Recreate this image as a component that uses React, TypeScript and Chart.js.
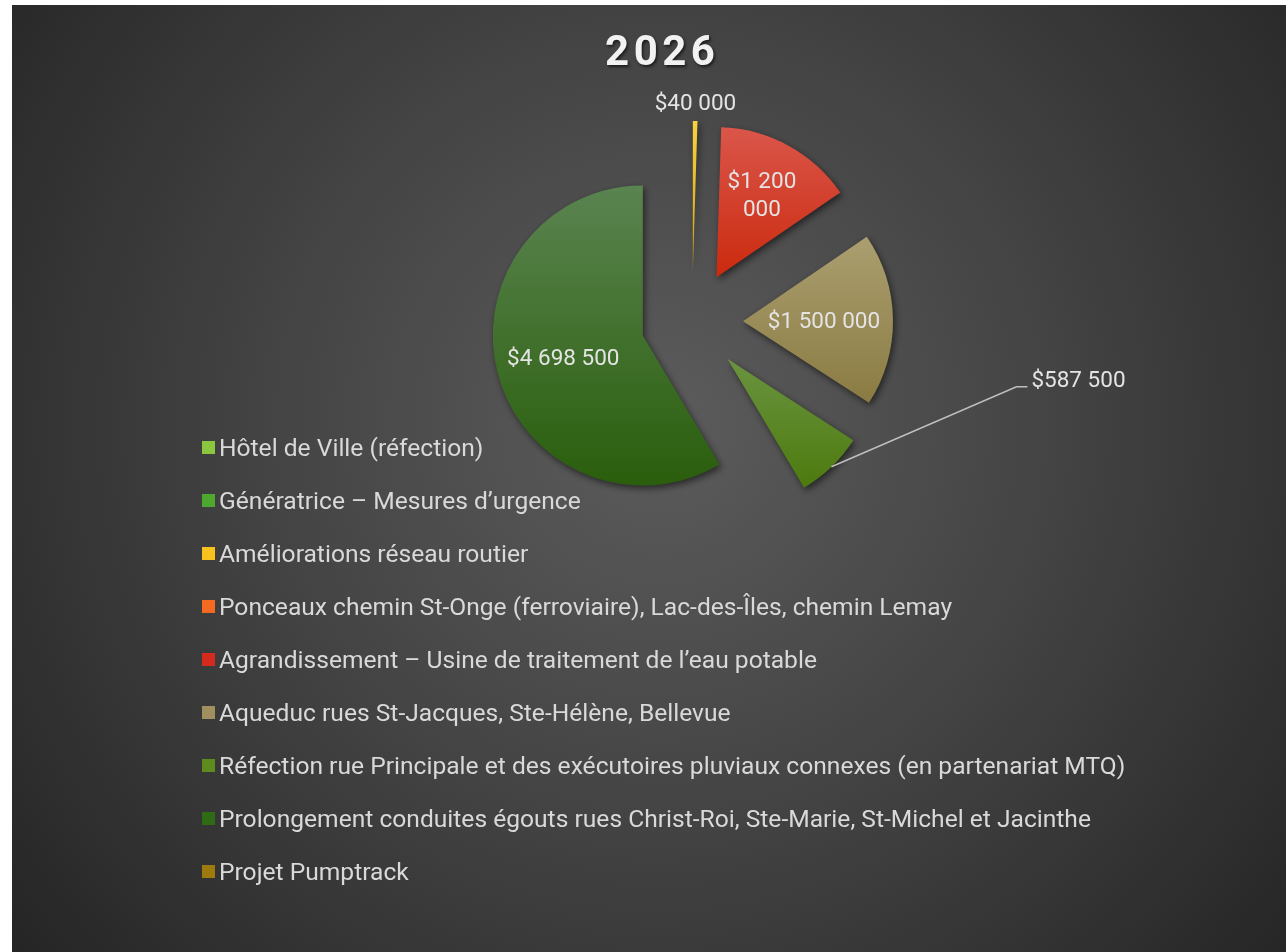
import React, { useEffect, useRef } from 'react';
import { Chart, registerables } from 'chart.js';

Chart.register(...registerables);

// ---------- data ----------
const TITLE = '2026';

const CATEGORIES = [
  'Hôtel de Ville (réfection)',
  'Génératrice – Mesures d’urgence',
  'Améliorations réseau routier',
  'Ponceaux chemin St-Onge (ferroviaire), Lac-des-Îles, chemin Lemay',
  'Agrandissement – Usine de traitement de l’eau potable',
  'Aqueduc rues St-Jacques, Ste-Hélène, Bellevue',
  'Réfection rue Principale et des exécutoires pluviaux connexes (en partenariat MTQ)',
  'Prolongement conduites égouts rues Christ-Roi, Ste-Marie, St-Michel et Jacinthe',
  'Projet Pumptrack',
];

const VALUES = [0, 0, 40000, 0, 1200000, 1500000, 587500, 4698500, 0];

// ---------- styles ----------
const LEGEND_COLORS = [
  '#8cc63f', '#4ea72e', '#f7c21e', '#f36a20', '#d42b1e',
  '#a09060', '#5e8a1e', '#2f6a14', '#9c7a0c',
];
const SLICE_TOP = [
  '#9ad43a', '#5cb23a', '#f8d040', '#f57a35', '#da564a',
  '#ab9f70', '#6a9440', '#5a8450', '#b08c20',
];
const SLICE_BOTTOM = [
  '#7bbb2a', '#3e8f20', '#d0a014', '#d85510', '#cb2a0e',
  '#8a7b42', '#4d7a0e', '#2a5e0c', '#8a6a08',
];

// label placement per slice (style only)
const LABEL_PLACEMENT: Record<number, any> = {
  2: { mode: 'outside', gap: 19 },
  4: { mode: 'inside', r: 0.63, maxWidth: 85 },
  5: { mode: 'inside', r: 0.54 },
  6: { mode: 'callout', dx: 185, dy: -80, tail: 11 },
  7: { mode: 'inside', r: 0.55 },
};

const W = 1296;
const H = 960;
const EXPLODE = 51;
const FONT = 'Roboto, "Open Sans", sans-serif';
const LABEL_SIZE = 22.5;
const LEGEND_SIZE = 24.6;

function fmt(v: number) {
  return '$' + String(v).replace(/\B(?=(\d{3})+(?!\d))/g, ' ');
}

const backgroundPlugin = {
  id: 'bg',
  beforeDraw(chart: any) {
    const ctx = chart.ctx;
    const g = ctx.createRadialGradient(648, 420, 0, 648, 420, 860);
    g.addColorStop(0, '#5c5c5c');
    g.addColorStop(0.45, '#444444');
    g.addColorStop(1, '#232323');
    ctx.save();
    ctx.fillStyle = g;
    ctx.fillRect(0, 0, chart.width, chart.height);
    ctx.restore();
  },
};

const explodedPiePlugin = {
  id: 'explodedPie',
  beforeDatasetDraw(chart: any, args: any) {
    const ctx = chart.ctx;
    args.meta.data.forEach((el: any, i: number) => {
      const p = el.getProps(['x', 'y', 'startAngle', 'endAngle', 'outerRadius', 'circumference'], true);
      if (!p.circumference) return;
      const half = (p.startAngle + p.endAngle) / 2;
      const cx = p.x + Math.cos(half) * EXPLODE;
      const cy = p.y + Math.sin(half) * EXPLODE;
      let minY = cy;
      let maxY = cy;
      for (let k = 0; k <= 48; k++) {
        const a = p.startAngle + ((p.endAngle - p.startAngle) * k) / 48;
        const y = cy + Math.sin(a) * p.outerRadius;
        minY = Math.min(minY, y);
        maxY = Math.max(maxY, y);
      }
      const g = ctx.createLinearGradient(0, minY, 0, maxY);
      g.addColorStop(0, SLICE_TOP[i]);
      g.addColorStop(1, SLICE_BOTTOM[i]);
      ctx.save();
      ctx.shadowColor = 'rgba(0,0,0,0.55)';
      ctx.shadowBlur = 7;
      ctx.shadowOffsetX = 2;
      ctx.shadowOffsetY = 3;
      ctx.beginPath();
      ctx.moveTo(cx, cy);
      ctx.arc(cx, cy, p.outerRadius, p.startAngle, p.endAngle);
      ctx.closePath();
      ctx.fillStyle = g;
      ctx.fill();
      ctx.restore();
    });
    return false;
  },
  afterDatasetsDraw(chart: any) {
    const ctx = chart.ctx;
    const meta = chart.getDatasetMeta(0);
    const values = chart.data.datasets[0].data as number[];
    ctx.save();
    ctx.font = `${LABEL_SIZE}px ${FONT}`;
    ctx.fillStyle = '#e4e4e4';
    ctx.textAlign = 'center';
    ctx.textBaseline = 'alphabetic';
    const capHalf = LABEL_SIZE * 0.355;
    meta.data.forEach((el: any, i: number) => {
      const place = LABEL_PLACEMENT[i];
      if (!place || !values[i]) return;
      const p = el.getProps(['x', 'y', 'startAngle', 'endAngle', 'outerRadius'], true);
      const half = (p.startAngle + p.endAngle) / 2;
      const dx = Math.cos(half);
      const dy = Math.sin(half);
      const ax = p.x + dx * EXPLODE;
      const ay = p.y + dy * EXPLODE;
      const text = fmt(values[i]);
      if (place.mode === 'inside') {
        const lx = ax + dx * p.outerRadius * place.r;
        const ly = ay + dy * p.outerRadius * place.r;
        let lines = [text];
        if (place.maxWidth) {
          lines = [];
          let cur = '';
          text.split(' ').forEach((w) => {
            const t = cur ? cur + ' ' + w : w;
            if (cur && ctx.measureText(t).width > place.maxWidth) {
              lines.push(cur);
              cur = w;
            } else cur = t;
          });
          if (cur) lines.push(cur);
        }
        const lh = 28;
        lines.forEach((ln, k) => {
          const y = ly + (k - (lines.length - 1) / 2) * lh + capHalf;
          ctx.fillText(ln, lx, y);
        });
      } else if (place.mode === 'outside') {
        const ox = ax + dx * (p.outerRadius + place.gap);
        const oy = ay + dy * (p.outerRadius + place.gap);
        ctx.fillText(text, ox, oy + capHalf);
      } else if (place.mode === 'callout') {
        const sx = ax + dx * p.outerRadius;
        const sy = ay + dy * p.outerRadius;
        const ex = sx + place.dx;
        const ey = sy + place.dy;
        ctx.save();
        ctx.strokeStyle = '#bfbfbf';
        ctx.lineWidth = 1.5;
        ctx.beginPath();
        ctx.moveTo(sx, sy);
        ctx.lineTo(ex, ey);
        ctx.lineTo(ex + place.tail, ey);
        ctx.stroke();
        ctx.restore();
        ctx.textAlign = 'left';
        ctx.fillText(text, ex + place.tail + 4, ey + 0.5);
        ctx.textAlign = 'center';
      }
    });
    ctx.restore();
  },
};

const titleLegendPlugin = {
  id: 'titleLegend',
  afterDraw(chart: any) {
    const ctx = chart.ctx;
    // title
    ctx.save();
    ctx.font = `bold 42px ${FONT}`;
    (ctx as any).letterSpacing = '4.5px';
    const tw = ctx.measureText(TITLE).width - 4.5;
    ctx.textAlign = 'left';
    ctx.textBaseline = 'alphabetic';
    ctx.shadowColor = 'rgba(0,0,0,0.6)';
    ctx.shadowBlur = 3;
    ctx.shadowOffsetX = 1.5;
    ctx.shadowOffsetY = 2;
    ctx.fillStyle = '#f2f2f2';
    ctx.fillText(TITLE, 648 - tw / 2, 60);
    ctx.restore();

    // legend
    ctx.save();
    ctx.font = `${LEGEND_SIZE}px ${FONT}`;
    ctx.textAlign = 'left';
    ctx.textBaseline = 'alphabetic';
    const labels = chart.data.labels as string[];
    labels.forEach((lab, i) => {
      const cy = 442.5 + i * 53;
      ctx.fillStyle = LEGEND_COLORS[i];
      ctx.fillRect(190, cy - 6.5, 13, 13);
      ctx.fillStyle = '#d9d9d9';
      ctx.fillText(lab, 207, cy + LEGEND_SIZE * 0.355);
    });
    ctx.restore();
  },
};

export default function App() {
  const ref = useRef<HTMLCanvasElement | null>(null);
  useEffect(() => {
    if (!ref.current) return;
    const chart = new Chart(ref.current, {
      type: 'pie',
      data: {
        labels: CATEGORIES,
        datasets: [
          {
            data: VALUES,
            backgroundColor: LEGEND_COLORS,
            borderWidth: 0,
          },
        ],
      },
      options: {
        responsive: false,
        animation: false,
        events: [],
        layout: { padding: { left: 530, right: 466, top: 167, bottom: 493 } },
        plugins: {
          legend: { display: false },
          title: { display: false },
          tooltip: { enabled: false },
        },
      },
      plugins: [backgroundPlugin, explodedPiePlugin, titleLegendPlugin],
    });
    return () => chart.destroy();
  }, []);
  return (
    <div style={{ position: 'fixed', left: 12, top: 5, width: W, height: H }}>
      <canvas ref={ref} width={W} height={H} style={{ display: 'block' }} />
    </div>
  );
}
